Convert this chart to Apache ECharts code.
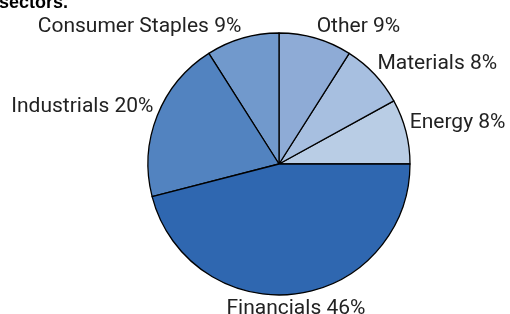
<!DOCTYPE html>
<html>
<head>
<meta charset="utf-8">
<script src="https://cdn.jsdelivr.net/npm/echarts@6/dist/echarts.min.js"></script>
<style>html,body{margin:0;padding:0;background:#fff}#c{width:510px;height:314px}</style>
</head>
<body>
<div id="c"></div>
<script>
var categories = ['Energy', 'Materials', 'Other', 'Consumer Staples', 'Industrials', 'Financials'];
var values = [8, 8, 9, 9, 20, 46];
var sliceColors = ['#b9cde5', '#a7bfe0', '#8eabd6', '#7199cc', '#5283c0', '#2f67b0'];
var titleFragment = 'sectors.';

var chart = echarts.init(document.getElementById('c'), null, {renderer: 'canvas'});
var data = categories.map(function (name, i) {
  return { name: name, value: values[i], itemStyle: { color: sliceColors[i] } };
});
var LABEL_GAP = 4;
chart.setOption({
  animation: false,
  backgroundColor: '#fff',
  graphic: [{
    type: 'text', left: -1, top: -6,
    style: { text: titleFragment, font: 'bold 18px "Liberation Sans", Arial', fill: '#000' }
  }],
  series: [{
    type: 'pie',
    center: [279, 164],
    radius: 131,
    startAngle: 0,
    clockwise: false,
    data: data,
    itemStyle: { borderColor: '#000', borderWidth: 1.3 },
    label: {
      show: true,
      position: 'outside',
      formatter: '{b} {c}%',
      fontFamily: 'Roboto',
      fontSize: 21,
      color: '#222',
      overflow: 'none'
    },
    labelLine: { show: false, length: LABEL_GAP, length2: 0 },
    labelLayout: function (p) {
      var lay = chart.getModel().getSeriesByIndex(0).getData().getItemLayout(p.dataIndex);
      if (!lay) return {};
      var mid = (lay.startAngle + lay.endAngle) / 2;
      var ux = Math.cos(mid), uy = Math.sin(mid);
      var rr = lay.r + LABEL_GAP;
      var align = Math.abs(ux) < 0.2 ? 'center' : (ux > 0 ? 'left' : 'right');
      return {
        x: lay.cx + ux * rr,
        y: lay.cy + uy * rr + (uy < 0 ? 3 : 0),
        align: align,
        verticalAlign: uy < 0 ? 'bottom' : 'top'
      };
    },
    emphasis: { disabled: true }
  }]
});
</script>
</body>
</html>
